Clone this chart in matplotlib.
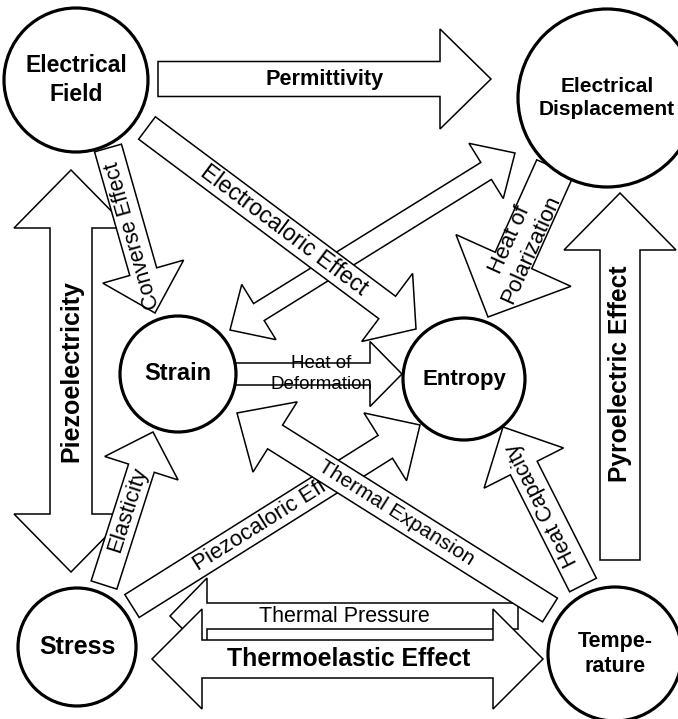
import numpy as np
import matplotlib
matplotlib.use("Agg")
import matplotlib.pyplot as plt
from matplotlib.patches import Circle, Polygon

plt.rcParams['font.family'] = ['Liberation Sans', 'DejaVu Sans']

# node texts (quantities)
node_labels = ["Electrical\nField", "Electrical\nDisplacement", "Strain",
               "Entropy", "Stress", "Tempe-\nrature"]

# arrow texts (effects), in drawing order (later ones lie on top)
arrow_labels = ["Thermal Pressure", "Thermoelastic Effect", "Piezoelectricity",
                "Converse Effect", "Elasticity", "", "Heat of\nDeformation",
                "Electrocaloric Effect", "Piezocaloric Effect", "Thermal Expansion",
                "Heat of\nPolarization", "Heat Capacity", "Pyroelectric Effect",
                "Permittivity"]
bold_labels = {"Thermoelastic Effect", "Piezoelectricity", "Pyroelectric Effect",
               "Permittivity"}

# layout, in pixels (y down)
node_xy = [(76, 80), (607, 98), (178, 374), (464, 379), (77, 647), (615, 654)]
node_r = [72, 89, 58, 61, 59, 67]
node_fs = [16.5, 15, 17, 16, 18, 15.5]

# x0, y0, x1, y1, shaft width, head width, head length, double headed
arrow_geom = [
    (518, 616, 170, 616, 26, 76, 37, False),
    (152, 659, 543, 659, 38, 100, 50, True),
    (71, 572, 71, 170, 42, 114, 58, True),
    (108, 148, 155, 313, 28, 84, 43, False),
    (104, 585, 153, 432, 27, 77, 38, False),
    (230, 330, 515, 153, 20, 65, 34, True),
    (230, 374, 402, 374, 22, 65, 32, False),
    (147, 128, 416, 329, 28, 85, 36, False),
    (132, 606, 420, 425, 27, 80, 41, False),
    (550, 610, 237, 413, 28, 83, 45, False),
    (555, 168, 488, 317, 40, 126, 62, False),
    (583, 585, 503, 427, 30, 89, 46, False),
    (620, 560, 620, 193, 40, 112, 57, False),
    (158, 79, 491, 79, 35, 100, 51, False),
]
# where the text sits along the arrow, turn it round?, font size, line spacing
label_t = [0.5, 0.504, 0.5, 0.527, 0.49, 0.5, 0.53, 0.51, 0.49, 0.492,
           0.517, 0.51, 0.507, 0.5]
label_flip = [True, False, False, True, False, False, False, False, False,
              True, True, False, False, False]
label_fs = [15.5, 17.8, 18, 15.5, 16, 10, 13.5, 16.5, 16, 15, 16, 15.5, 17.7, 15.6]
label_ls = [1.0] * 6 + [1.3] + [1.0] * 3 + [1.15] + [1.0] * 3


def arrow_points(x0, y0, x1, y1, w, hw, hl, both):
    p0 = np.array([x0, y0], float)
    p1 = np.array([x1, y1], float)
    u = (p1 - p0) / np.hypot(*(p1 - p0))
    n = np.array([-u[1], u[0]])
    b1 = p1 - hl * u
    pts_r = [b1 + w / 2 * n, b1 + hw / 2 * n, p1, b1 - hw / 2 * n, b1 - w / 2 * n]
    if both:
        b0 = p0 + hl * u
        pts_l = [b0 - w / 2 * n, b0 - hw / 2 * n, p0, b0 + hw / 2 * n, b0 + w / 2 * n]
    else:
        pts_l = [p0 - w / 2 * n, p0 + w / 2 * n]
    return np.array(pts_l[-1:] + pts_r + pts_l[:-1])


fig = plt.figure(figsize=(6.78, 7.19), dpi=100)
ax = fig.add_axes([0, 0, 1, 1])
ax.set_xlim(0, 678)
ax.set_ylim(719, 0)
ax.axis('off')

for i, (g, lab) in enumerate(zip(arrow_geom, arrow_labels)):
    z = 2 + i
    pts = arrow_points(*g)
    ax.add_patch(Polygon(pts, closed=True, facecolor='white', edgecolor='black',
                         lw=1.1, joinstyle='miter', zorder=z))
    if not lab:
        continue
    x0, y0, x1, y1 = g[:4]
    ang = np.degrees(np.arctan2(-(y1 - y0), x1 - x0))
    if label_flip[i]:
        ang += 180
    t = label_t[i]
    ax.text(x0 + t * (x1 - x0), y0 + t * (y1 - y0), lab, rotation=ang,
            rotation_mode='anchor', ha='center', va='center', multialignment='center',
            fontsize=label_fs[i], linespacing=label_ls[i],
            fontweight='bold' if lab in bold_labels else 'normal', zorder=z + 0.5)

for (cx, cy), r, lab, fs in zip(node_xy, node_r, node_labels, node_fs):
    ax.add_patch(Circle((cx, cy), r, facecolor='white', edgecolor='black', lw=2.3, zorder=30))
    ax.text(cx, cy, lab, ha='center', va='center', fontsize=fs, fontweight='bold',
            linespacing=1.3, zorder=31)

fig.savefig('out.png', dpi=100)
